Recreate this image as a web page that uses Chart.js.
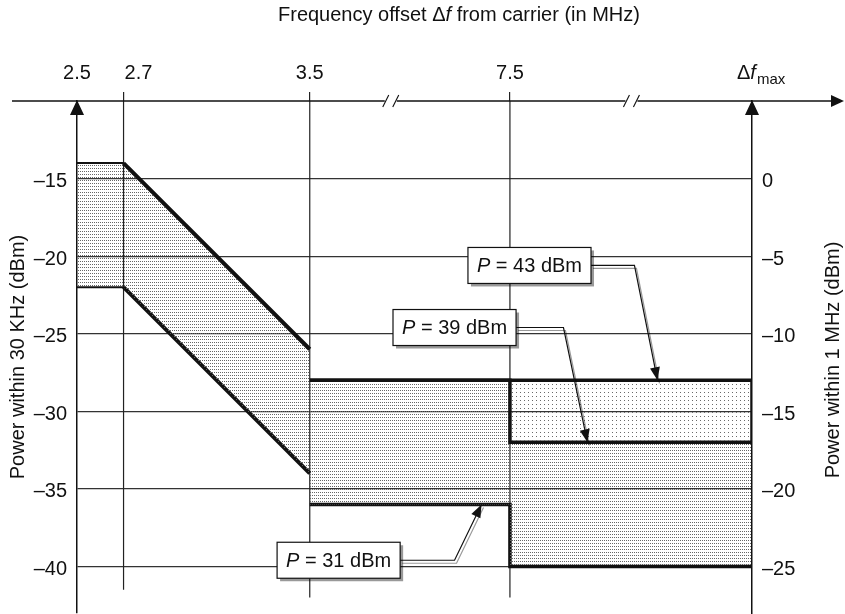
<!DOCTYPE html>
<html>
<head>
<meta charset="utf-8">
<script src="https://cdn.jsdelivr.net/npm/chart.js@4.4.1/dist/chart.umd.min.js"></script>
<style>
  html, body { margin: 0; padding: 0; background: #fff; }
  #wrap { width: 845px; height: 614px; }
</style>
</head>
<body>
<div id="wrap"><canvas id="maskChart"></canvas></div>
<script>
// Frequency offsets (broken axis, so each offset has its own place on the axis)
const freqLabels = ['2.5', '2.7', '3.5', '7.5', 'Δfmax'];
const freqAxisPos = [2.5, 2.7, 3.5, 4.36, 5.40];

// Left axis: power within 30 kHz, right axis: power within 1 MHz (dBm)
const ticks30k = [-15, -20, -25, -30, -35, -40];
const ticks1M = [0, -5, -10, -15, -20, -25];

// Mask edges at 2.5, 2.7 and 3.5 MHz
const maskFreq = [0, 1, 2];
const maskUpper = [-14, -14, -26];
const maskLower = [-22, -22, -34];

// Limits per output power class, from 3.5 MHz to Δfmax
const powerClasses = [43, 39, 31];
const limit43Freq = [2, 3, 4, 4];
const limit43 = [-28, -28, -28, -32];
const limitFreq = [2, 3, 4];
const limit39 = [-28, -32, -32];
const limit31 = [-36, -40, -40];

const FONT = "'Liberation Sans', Arial, Helvetica, sans-serif";
const INK = '#111';

const canvas = document.getElementById('maskChart');
const ctx0 = canvas.getContext('2d');

function dotPattern(w, h, color) {
    const tile = document.createElement('canvas');
    tile.width = w;
    tile.height = h;
    const t = tile.getContext('2d');
    t.fillStyle = color;
    t.fillRect(0, 0, 1, 1);
    return ctx0.createPattern(tile, 'repeat');
}
const denseDots = dotPattern(2, 3, '#666');
const sparseDots = dotPattern(4, 4, '#6a6a6a');

const pts = (idx, vals) => vals.map((v, i) => ({ x: freqAxisPos[idx[i]], y: v }));
const dashFmt = v => (v < 0 ? '\u2013' + Math.abs(v) : String(v));

// callouts: box centre, elbow x and arrow tip, in axis units
const callouts = [
    { box: [4.444, -20.6], elbowX: 4.895, tip: [4.994, -28] },
    { box: [4.122, -24.6], elbowX: 4.590, tip: [4.693, -32] },
    { box: [3.624, -39.6], elbowX: 4.122, tip: [4.238, -36] }
];
const axisBreaks = [3.848, 4.882];

function arrowHead(ctx, fx, fy, tx, ty, len, half) {
    const a = Math.atan2(ty - fy, tx - fx);
    ctx.beginPath();
    ctx.moveTo(tx, ty);
    ctx.lineTo(tx - len * Math.cos(a) + half * Math.sin(a), ty - len * Math.sin(a) - half * Math.cos(a));
    ctx.lineTo(tx - len * Math.cos(a) - half * Math.sin(a), ty - len * Math.sin(a) + half * Math.cos(a));
    ctx.closePath();
    ctx.fill();
}

const maskDecor = {
    id: 'maskDecor',
    beforeDatasetsDraw(chart) {
        const { ctx, chartArea, scales: { x, y } } = chart;
        ctx.save();
        ctx.strokeStyle = '#222';
        ctx.lineWidth = 1.2;
        [[1, -41.5], [2, -42], [3, -42]].forEach(([i, bottom]) => {
            const px = x.getPixelForValue(freqAxisPos[i]);
            ctx.beginPath();
            ctx.moveTo(px, chartArea.top);
            ctx.lineTo(px, y.getPixelForValue(bottom));
            ctx.stroke();
        });
        ctx.restore();
    },
    afterDraw(chart) {
        const { ctx, chartArea, scales: { x, y } } = chart;
        const top = chartArea.top;
        const W = chart.width;
        ctx.save();
        ctx.fillStyle = INK;
        ctx.strokeStyle = INK;

        // top frequency axis with arrow
        ctx.lineWidth = 1.5;
        ctx.beginPath();
        ctx.moveTo(chartArea.left - 65, top);
        ctx.lineTo(W - 8, top);
        ctx.stroke();
        arrowHead(ctx, W - 20, top, W - 1, top, 13, 6);

        // axis breaks
        axisBreaks.forEach(v => {
            const px = x.getPixelForValue(v);
            ctx.fillStyle = '#fff';
            ctx.fillRect(px - 6, top - 2, 12, 4);
            ctx.fillStyle = INK;
            ctx.lineWidth = 1.1;
            [-5, 5].forEach(d => {
                ctx.beginPath();
                ctx.moveTo(px + d - 3, top + 6);
                ctx.lineTo(px + d + 3, top - 6);
                ctx.stroke();
            });
        });

        // up arrows on both power axes
        [0, 4].forEach(i => {
            const px = x.getPixelForValue(freqAxisPos[i]);
            arrowHead(ctx, px, top + 20, px, top - 1, 15, 7);
        });

        // frequency tick labels
        ctx.font = '20px ' + FONT;
        ctx.textBaseline = 'alphabetic';
        const base = top - 22;
        freqLabels.forEach((lab, i) => {
            const px = x.getPixelForValue(freqAxisPos[i]);
            if (i === 4) {
                let cx = px - 15;
                ctx.textAlign = 'left';
                ctx.font = '20px ' + FONT;
                ctx.fillText('Δ', cx, base);
                cx += ctx.measureText('Δ').width;
                ctx.font = 'italic 20px ' + FONT;
                ctx.fillText('f', cx, base);
                cx += ctx.measureText('f').width + 1;
                ctx.font = '15px ' + FONT;
                ctx.fillText('max', cx, base + 5);
                ctx.font = '20px ' + FONT;
            } else if (i === 1) {
                ctx.textAlign = 'left';
                ctx.fillText(lab, px + 1, base);
            } else {
                ctx.textAlign = 'center';
                ctx.fillText(lab, px, base);
            }
        });

        // top title with italic f
        ctx.textAlign = 'left';
        let tx = chartArea.left + 201;
        const parts = [['Frequency offset Δ', ''], ['f', 'italic '], [' from carrier (in MHz)', '']];
        parts.forEach(([s, st]) => {
            ctx.font = st + '20px ' + FONT;
            ctx.fillText(s, tx, 21);
            tx += ctx.measureText(s).width;
        });

        // right axis title, read bottom to top
        ctx.save();
        ctx.translate(chartArea.right + 87, (chartArea.top + chartArea.bottom) / 2 + 3);
        ctx.rotate(-Math.PI / 2);
        ctx.font = '20px ' + FONT;
        ctx.textAlign = 'center';
        ctx.fillText('Power within 1 MHz (dBm)', 0, 0);
        ctx.restore();

        // power class callouts
        callouts.forEach((c, k) => {
            const bx = x.getPixelForValue(c.box[0]);
            const by = y.getPixelForValue(c.box[1]);
            const rest = ' = ' + powerClasses[k] + ' dBm';
            ctx.font = 'italic 20px ' + FONT;
            const wP = ctx.measureText('P').width;
            ctx.font = '20px ' + FONT;
            const wR = ctx.measureText(rest).width;
            const bw = wP + wR + 18;
            const bh = 36;
            const left = bx - bw / 2;
            const ex = x.getPixelForValue(c.elbowX);
            const tipX = x.getPixelForValue(c.tip[0]);
            const tipY = y.getPixelForValue(c.tip[1]);

            // leader line with a grey shadow
            ctx.save();
            ctx.shadowColor = 'rgba(0,0,0,0.4)';
            ctx.shadowOffsetX = 2;
            ctx.shadowOffsetY = 3;
            ctx.lineWidth = 1.2;
            ctx.beginPath();
            ctx.moveTo(left + bw, by);
            ctx.lineTo(ex, by);
            ctx.lineTo(tipX, tipY);
            ctx.stroke();
            ctx.restore();
            arrowHead(ctx, ex, by, tipX, tipY, 13, 5);

            ctx.save();
            ctx.shadowColor = 'rgba(0,0,0,0.4)';
            ctx.shadowOffsetX = 3;
            ctx.shadowOffsetY = 3;
            ctx.fillStyle = '#fff';
            ctx.fillRect(left, by - bh / 2, bw, bh);
            ctx.restore();
            ctx.lineWidth = 1.2;
            ctx.strokeRect(left, by - bh / 2, bw, bh);

            ctx.textAlign = 'left';
            ctx.textBaseline = 'middle';
            ctx.font = 'italic 20px ' + FONT;
            ctx.fillText('P', left + 9, by + 1);
            ctx.font = '20px ' + FONT;
            ctx.fillText(rest, left + 9 + wP, by + 1);
            ctx.textBaseline = 'alphabetic';
        });
        ctx.restore();
    }
};

new Chart(canvas, {
    type: 'line',
    data: {
        datasets: [
            {
                label: 'Mask upper',
                data: pts(maskFreq, maskUpper),
                borderColor: INK,
                borderWidth: 4,
                segment: { borderWidth: c => (c.p0DataIndex === 0 ? 2 : 4) },
                backgroundColor: denseDots,
                fill: '+1'
            },
            {
                label: 'Mask lower',
                data: pts(maskFreq, maskLower),
                borderColor: INK,
                borderWidth: 4,
                segment: { borderWidth: c => (c.p0DataIndex === 0 ? 2 : 4) },
                fill: false
            },
            {
                label: 'P = 43 dBm',
                data: pts(limit43Freq, limit43),
                borderColor: INK,
                borderWidth: 3.5,
                backgroundColor: sparseDots,
                fill: '+1'
            },
            {
                label: 'P = 39 dBm',
                data: pts(limitFreq, limit39),
                stepped: 'before',
                borderColor: INK,
                borderWidth: 3.5,
                backgroundColor: denseDots,
                fill: '+1'
            },
            {
                label: 'P = 31 dBm',
                data: pts(limitFreq, limit31),
                stepped: 'before',
                borderColor: INK,
                borderWidth: 3.5,
                fill: false
            }
        ]
    },
    options: {
        responsive: true,
        maintainAspectRatio: false,
        animation: false,
        layout: { padding: { top: 92, left: 2, right: 50, bottom: 1 } },
        elements: {
            point: { radius: 0, hoverRadius: 0 },
            line: { tension: 0, borderJoinStyle: 'miter' }
        },
        plugins: {
            legend: { display: false },
            tooltip: { enabled: false }
        },
        scales: {
            x: {
                type: 'linear',
                position: 'top',
                min: freqAxisPos[0],
                max: freqAxisPos[4],
                afterBuildTicks: s => { s.ticks = freqAxisPos.map(v => ({ value: v })); },
                afterFit: s => { s.height = 9; s.paddingLeft = 0; s.paddingRight = 0; },
                ticks: { display: false },
                border: { display: false },
                grid: {
                    drawOnChartArea: false,
                    drawTicks: true,
                    tickLength: 9,
                    lineWidth: 1.2,
                    tickColor: c => (c.index === 0 || c.index === 4 ? 'rgba(0,0,0,0)' : '#222')
                }
            },
            y: {
                position: 'left',
                min: -43,
                max: -10,
                afterBuildTicks: s => { s.ticks = ticks30k.map(v => ({ value: v })); },
                afterFit: s => { s.width = 75; s.paddingTop = 0; s.paddingBottom = 0; },
                ticks: {
                    padding: 10,
                    labelOffset: 3,
                    color: INK,
                    font: { family: FONT, size: 20 },
                    callback: v => dashFmt(v)
                },
                grid: { color: '#333', lineWidth: 1.2, drawTicks: false },
                border: { display: true, color: INK, width: 1.5 },
                title: {
                    display: true,
                    text: 'Power within 30 KHz (dBm)',
                    color: INK,
                    font: { family: FONT, size: 20 },
                    padding: { top: 4, bottom: 4 }
                }
            },
            y2: {
                position: 'right',
                min: -28,
                max: 5,
                afterBuildTicks: s => { s.ticks = ticks1M.map(v => ({ value: v })); },
                afterFit: s => { s.width = 43; s.paddingTop = 0; s.paddingBottom = 0; },
                ticks: {
                    padding: 10,
                    labelOffset: 3,
                    color: INK,
                    font: { family: FONT, size: 20 },
                    callback: v => dashFmt(v)
                },
                grid: { drawOnChartArea: false, drawTicks: false },
                border: { display: true, color: INK, width: 1.5 }
            }
        }
    },
    plugins: [maskDecor]
});
</script>
</body>
</html>
